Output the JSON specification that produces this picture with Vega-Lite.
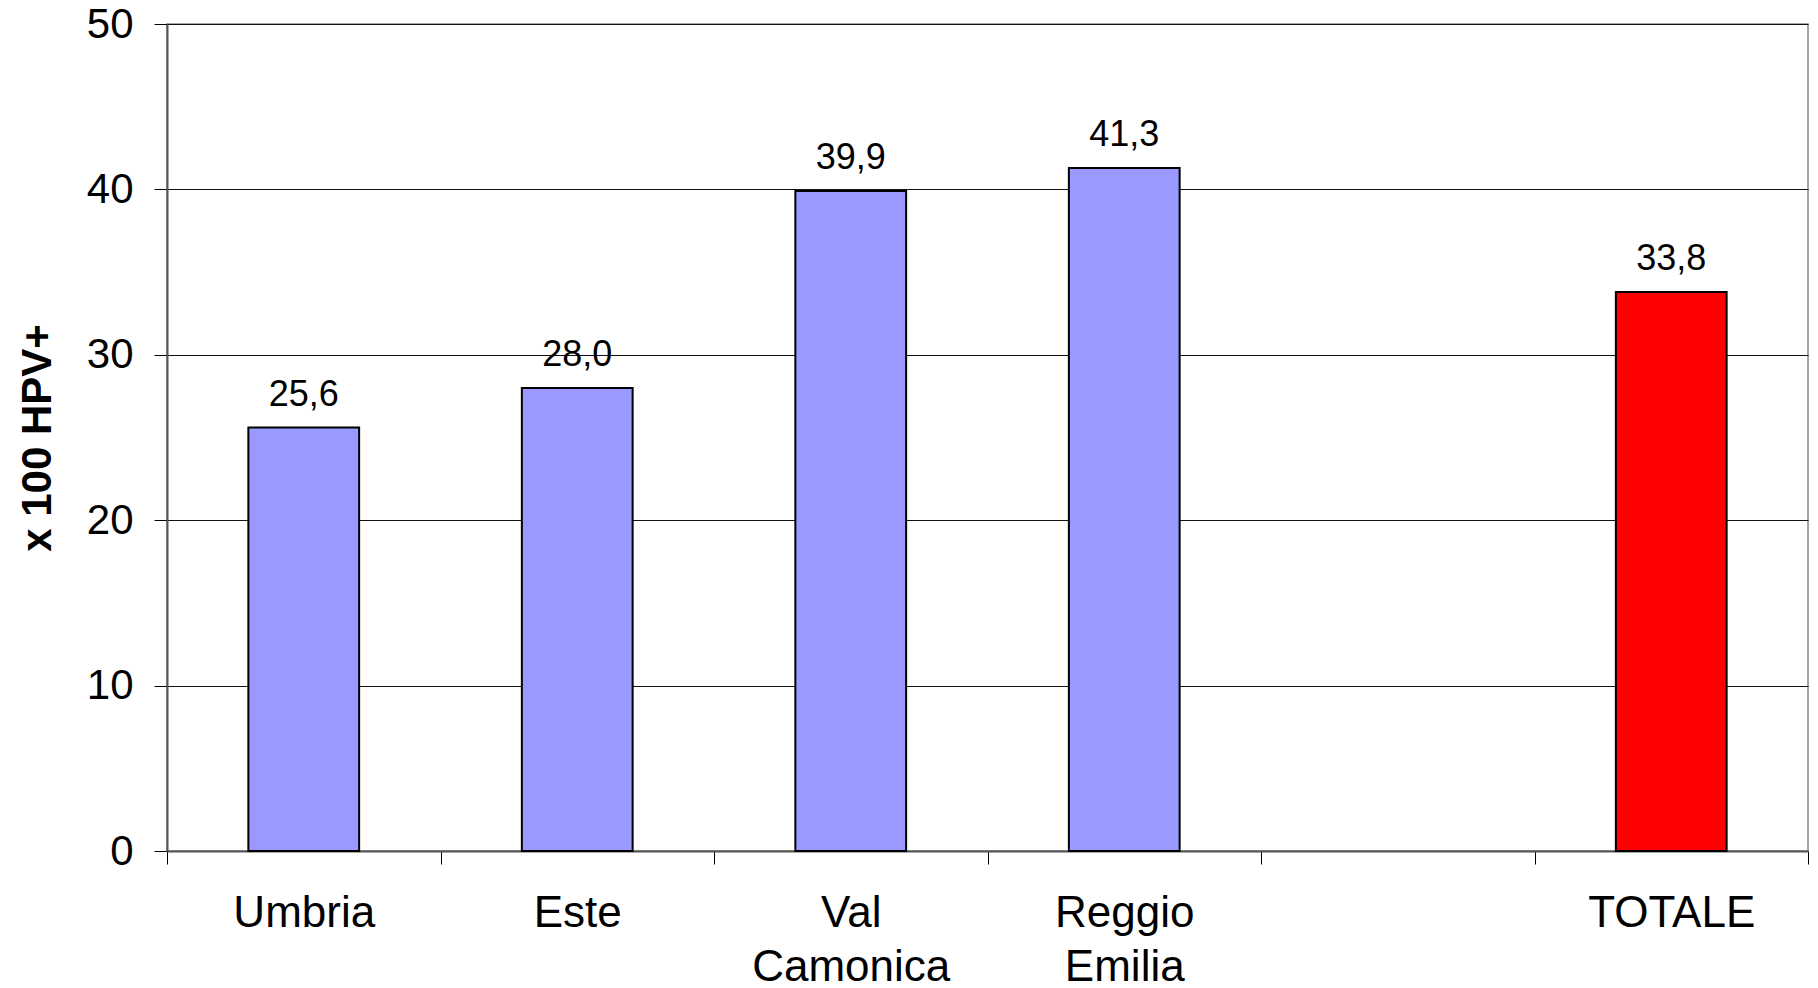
{
  "$schema": "https://vega.github.io/schema/vega-lite/v6.json",
  "width": 1641,
  "height": 827,
  "autosize": {"type": "none"},
  "padding": {"left": 167, "top": 24, "right": 10, "bottom": 137},
  "background": "white",
  "config": {
    "locale": {"number": {"decimal": ",", "thousands": ".", "grouping": [3], "currency": ["€", ""]}},
    "view": {"stroke": "#888888", "strokeWidth": 1.5},
    "font": "Liberation Sans"
  },
  "data": {
    "values": [
      {"region": "Umbria", "value": 25.6, "group": "regione"},
      {"region": "Este", "value": 28.0, "group": "regione"},
      {"region": "Val Camonica", "value": 39.9, "group": "regione"},
      {"region": "Reggio Emilia", "value": 41.3, "group": "regione"},
      {"region": "TOTALE", "value": 33.8, "group": "totale"}
    ]
  },
  "encoding": {
    "x": {
      "field": "region",
      "type": "nominal",
      "sort": null,
      "scale": {
        "domain": ["Umbria", "Este", "Val Camonica", "Reggio Emilia", "", "TOTALE"],
        "paddingInner": 0,
        "paddingOuter": 0
      },
      "axis": {
        "title": null,
        "labelAngle": 0,
        "tickBand": "extent",
        "labelExpr": "split(datum.label, ' ')",
        "labelFont": "Liberation Sans",
        "labelFontSize": 44,
        "labelColor": "black",
        "labelPadding": 27,
        "labelLineHeight": 54,
        "labelLimit": 0,
        "tickSize": 13,
        "tickColor": "black",
        "tickWidth": 1,
        "domainColor": "#555555",
        "domainWidth": 2,
        "grid": false,
        "labelOverlap": false
      }
    },
    "y": {
      "field": "value",
      "type": "quantitative",
      "scale": {"domain": [0, 50], "nice": false},
      "axis": {
        "values": [0, 10, 20, 30, 40, 50],
        "title": "x 100 HPV+",
        "titleFont": "Liberation Sans",
        "titleFontSize": 42,
        "titleFontWeight": "bold",
        "titleColor": "black",
        "titlePadding": 27,
        "labelFont": "Liberation Sans",
        "labelFontSize": 42,
        "labelColor": "black",
        "labelPadding": 21,
        "labelOverlap": false,
        "tickSize": 13,
        "tickColor": "black",
        "domainColor": "#555555",
        "domainWidth": 2,
        "grid": true,
        "gridColor": "#111111",
        "gridWidth": 1
      }
    }
  },
  "layer": [
    {
      "mark": {"type": "bar", "stroke": "black", "strokeWidth": 2, "width": {"band": 0.405}},
      "encoding": {
        "color": {
          "field": "group",
          "type": "nominal",
          "scale": {"domain": ["regione", "totale"], "range": ["#9999FF", "#FF0000"]},
          "legend": null
        }
      }
    },
    {
      "mark": {"type": "text", "dy": -22, "baseline": "alphabetic", "align": "center", "fontSize": 36, "font": "Liberation Sans", "color": "black"},
      "encoding": {
        "text": {"field": "value", "type": "quantitative", "format": ".1f"}
      }
    }
  ]
}
